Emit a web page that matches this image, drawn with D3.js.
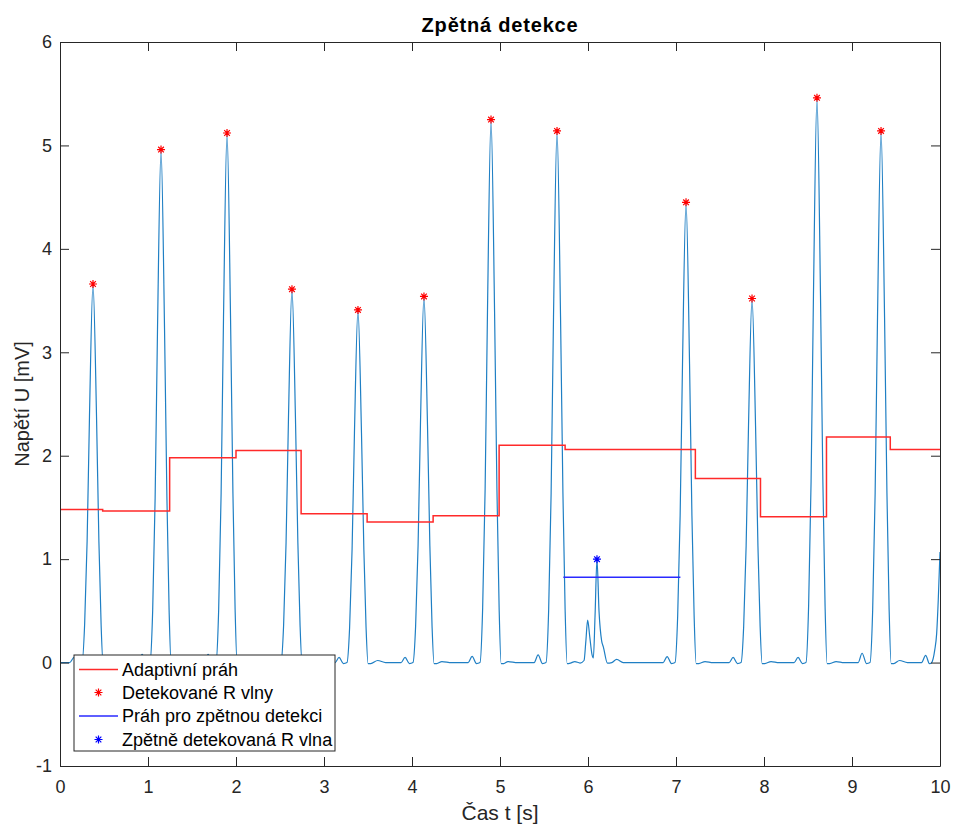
<!DOCTYPE html>
<html>
<head>
<meta charset="utf-8">
<script src="https://cdn.jsdelivr.net/npm/d3@7"></script>
<style>
  html, body { margin: 0; padding: 0; background: #fff; }
  svg { display: block; }
  text { font-family: "Liberation Sans", Arial, Helvetica, sans-serif; }
</style>
</head>
<body>
<svg id="chart" width="953" height="829"></svg>
<script>
// ---------------- data ----------------
const titleText = "Zpětná detekce";
const xLabel = "Čas t [s]";
const yLabel = "Napětí U [mV]";
const xTicks = [0, 1, 2, 3, 4, 5, 6, 7, 8, 9, 10];
const yTicks = [-1, 0, 1, 2, 3, 4, 5, 6];
const legendLabels = ["Adaptivní práh", "Detekované R vlny", "Práh pro zpětnou detekci", "Zpětně detekovaná R vlna"];

// ECG signal [t (s), U (mV)]
const ecg = [
  [0,0],[0.11,0],[0.16,0.05],[0.2,0.03],[0.25,0],
  [0.28,0.37],[0.308,1.17],[0.335,2.38],[0.375,3.66],[0.415,2.38],[0.442,1.17],[0.467,0.37],[0.49,-0.01],
  [0.52,-0.01],[0.585,0.02],[0.68,0],
  [0.888,0],[0.933,0.08],[0.983,-0.01],
  [1.023,0],[1.053,0.50],[1.081,1.59],[1.108,3.22],[1.148,4.96],[1.188,3.22],[1.215,1.59],[1.240,0.50],[1.263,-0.01],
  [1.293,-0.01],[1.358,0.02],[1.45,0],
  [1.638,0],[1.683,0.08],[1.733,-0.01],
  [1.773,0],[1.803,0.51],[1.831,1.64],[1.858,3.33],[1.898,5.12],[1.938,3.33],[1.965,1.64],[1.990,0.51],[2.013,-0.01],
  [2.043,-0.01],[2.108,0.02],[2.2,0],
  [2.376,0],[2.421,0.05],[2.471,-0.01],
  [2.511,0],[2.541,0.36],[2.569,1.16],[2.596,2.35],[2.636,3.61],[2.676,2.35],[2.703,1.16],[2.728,0.36],[2.751,-0.01],
  [2.781,-0.01],[2.846,0.02],[2.94,0],
  [3.126,0],[3.171,0.05],[3.221,-0.01],
  [3.261,0],[3.291,0.34],[3.319,1.09],[3.346,2.22],[3.386,3.41],[3.426,2.22],[3.453,1.09],[3.478,0.34],[3.501,-0.01],
  [3.531,-0.01],[3.61,0.02],[3.7,0],
  [3.876,0],[3.921,0.05],[3.971,-0.01],
  [4.011,0],[4.041,0.35],[4.069,1.13],[4.096,2.30],[4.136,3.54],[4.176,2.30],[4.203,1.13],[4.228,0.35],[4.251,-0.01],
  [4.281,-0.01],[4.34,0.01],[4.45,0],
  [4.638,0],[4.683,0.06],[4.733,-0.01],
  [4.773,0],[4.803,0.53],[4.831,1.68],[4.858,3.41],[4.898,5.25],[4.938,3.41],[4.965,1.68],[4.990,0.53],[5.013,-0.01],
  [5.043,-0.01],[5.09,0.01],[5.2,0],
  [5.388,0],[5.433,0.075],[5.483,-0.01],
  [5.523,0],[5.553,0.51],[5.581,1.64],[5.608,3.34],[5.648,5.14],[5.688,3.34],[5.715,1.64],[5.740,0.51],[5.763,-0.01],
  [5.80,-0.005],[5.85,0.01],[5.91,-0.005],[5.955,0.02],[5.975,0.2],[5.996,0.41],[6.02,0.25],[6.045,0.08],[6.061,0.045],
  [6.08,0.45],[6.102,1.0],[6.125,0.5],[6.155,0.21],[6.175,0.15],[6.22,-0.005],[6.27,0],[6.326,0.03],[6.4,0],
  [6.854,0],[6.899,0.058],[6.949,-0.01],
  [6.989,0],[7.019,0.45],[7.047,1.42],[7.074,2.89],[7.114,4.45],[7.154,2.89],[7.181,1.42],[7.206,0.45],[7.229,-0.01],
  [7.259,-0.01],[7.33,0.01],[7.42,0],
  [7.604,0],[7.649,0.05],[7.699,-0.01],
  [7.739,0],[7.769,0.35],[7.797,1.13],[7.824,2.29],[7.864,3.52],[7.904,2.29],[7.931,1.13],[7.956,0.35],[7.979,-0.01],
  [8.009,-0.01],[8.08,0.01],[8.17,0],
  [8.342,0],[8.387,0.05],[8.437,-0.01],
  [8.477,0],[8.507,0.55],[8.535,1.75],[8.562,3.55],[8.602,5.46],[8.642,3.55],[8.669,1.75],[8.694,0.55],[8.717,-0.01],
  [8.747,-0.01],[8.82,0.01],[8.91,0],
  [9.07,0],[9.115,0.09],[9.165,-0.01],
  [9.205,0],[9.235,0.51],[9.263,1.64],[9.290,3.34],[9.330,5.14],[9.370,3.34],[9.397,1.64],[9.422,0.51],[9.445,-0.01],
  [9.475,-0.01],[9.54,0.02],[9.63,0],
  [9.79,0],[9.837,0.07],[9.88,-0.01],[9.905,0],[9.94,0.12],[9.962,0.28],[9.98,0.6],[10,1.07]
];

// adaptive threshold: [start time, level] (step function), last point closes at t = 10
const threshold = [
  [0,1.48],[0.485,1.465],[1.246,1.98],[2.0,2.05],[2.74,1.44],[3.49,1.36],[4.24,1.42],
  [4.99,2.10],[5.74,2.06],[7.22,1.78],[7.96,1.41],[8.71,2.18],[9.435,2.06],[10,2.06]
];

// detected R waves [t, U]
const detectedR = [
  [0.375,3.66],[1.148,4.96],[1.898,5.12],[2.636,3.61],[3.386,3.41],[4.136,3.54],
  [4.898,5.25],[5.648,5.14],[7.114,4.45],[7.864,3.52],[8.602,5.46],[9.330,5.14]
];

// threshold for back-detection
const backThreshold = [[5.72,0.825],[7.05,0.825]];

// back-detected R wave
const backR = [[6.102,1.0]];

// ---------------- drawing ----------------
const svg = d3.select("#chart");
const W = 953, H = 829;
const m = { left: 60, right: 13, top: 42, bottom: 63 };
const pw = W - m.left - m.right, ph = H - m.top - m.bottom;

const x = d3.scaleLinear().domain([0, 10]).range([m.left, m.left + pw]);
const y = d3.scaleLinear().domain([-1, 6]).range([m.top + ph, m.top]);

const axisColor = "#262626";
const red = "#ff2a2a", blue = "#2a2aff";

svg.append("rect").attr("width", W).attr("height", H).attr("fill", "#fff");

svg.append("defs").append("clipPath").attr("id", "clip")
  .append("rect").attr("x", m.left).attr("y", m.top).attr("width", pw).attr("height", ph);

const plot = svg.append("g").attr("clip-path", "url(#clip)");

plot.append("path").datum(ecg)
  .attr("d", d3.line().x(d => x(d[0])).y(d => y(d[1])).curve(d3.curveMonotoneX))
  .attr("fill", "none").attr("stroke", "#1f7fc4").attr("stroke-width", 1.2);

plot.append("path").datum(threshold)
  .attr("d", d3.line().x(d => x(d[0])).y(d => y(d[1])).curve(d3.curveStepAfter))
  .attr("fill", "none").attr("stroke", red).attr("stroke-width", 1.5);

plot.append("path").datum(backThreshold)
  .attr("d", d3.line().x(d => x(d[0])).y(d => y(d[1])))
  .attr("fill", "none").attr("stroke", blue).attr("stroke-width", 1.5);

// MATLAB-like '*' marker (plus + cross)
const starType = {
  draw(ctx, size) {
    const r = Math.sqrt(size) / 2;
    const d = r * 0.7071;
    ctx.moveTo(-r, 0); ctx.lineTo(r, 0);
    ctx.moveTo(0, -r); ctx.lineTo(0, r);
    ctx.moveTo(-d, -d); ctx.lineTo(d, d);
    ctx.moveTo(-d, d); ctx.lineTo(d, -d);
  }
};
const star = d3.symbol().type(starType).size(64);

plot.selectAll(".rstar").data(detectedR).enter().append("path")
  .attr("transform", d => `translate(${x(d[0])},${y(d[1])})`)
  .attr("d", star).attr("fill", "none").attr("stroke", "#ff0000").attr("stroke-width", 1.2);

plot.selectAll(".bstar").data(backR).enter().append("path")
  .attr("transform", d => `translate(${x(d[0])},${y(d[1])})`)
  .attr("d", star).attr("fill", "none").attr("stroke", "#0000ff").attr("stroke-width", 1.2);

// axes
function styleAxis(g) {
  g.selectAll(".domain").attr("stroke", axisColor).attr("stroke-width", 1);
  g.selectAll(".tick line").attr("stroke", axisColor).attr("stroke-width", 1);
  g.selectAll(".tick text").attr("fill", axisColor).style("font-size", "18px");
}
const fmt = d => (d < 0 ? "-" + Math.abs(d) : String(d));
svg.append("g").attr("transform", `translate(0,${m.top + ph})`)
  .call(d3.axisBottom(x).tickValues(xTicks).tickFormat(fmt).tickSize(-9).tickSizeOuter(0).tickPadding(14))
  .call(styleAxis);
svg.append("g").attr("transform", `translate(0,${m.top})`)
  .call(d3.axisTop(x).tickValues(xTicks).tickFormat(() => "").tickSize(-9).tickSizeOuter(0))
  .call(styleAxis);
svg.append("g").attr("transform", `translate(${m.left},0)`)
  .call(d3.axisLeft(y).tickValues(yTicks).tickFormat(fmt).tickSize(-9).tickSizeOuter(0).tickPadding(8))
  .call(styleAxis);
svg.append("g").attr("transform", `translate(${m.left + pw},0)`)
  .call(d3.axisRight(y).tickValues(yTicks).tickFormat(() => "").tickSize(-9).tickSizeOuter(0))
  .call(styleAxis);

// titles
svg.append("text").attr("x", m.left + pw / 2).attr("y", 32)
  .attr("text-anchor", "middle").style("font-size", "20px").style("font-weight", "bold")
  .style("letter-spacing", "0.8px").attr("fill", "#000").text(titleText);

svg.append("text").attr("x", m.left + pw / 2).attr("y", 820)
  .attr("text-anchor", "middle").style("font-size", "21px").attr("fill", axisColor).text(xLabel);

svg.append("text").attr("transform", `translate(29,${m.top + ph / 2}) rotate(-90)`)
  .attr("text-anchor", "middle").style("font-size", "20px").attr("fill", axisColor).text(yLabel);

// legend
const lg = svg.append("g").attr("transform", "translate(74,655)");
lg.append("rect").attr("width", 261).attr("height", 96)
  .attr("fill", "#fff").attr("stroke", axisColor).attr("stroke-width", 1);
const rowY = [14.5, 37.5, 61, 84.5];
const legendItems = [
  { type: "line", color: red },
  { type: "star", color: "#ff0000" },
  { type: "line", color: blue },
  { type: "star", color: "#0000ff" }
];
legendItems.forEach((it, i) => {
  const g = lg.append("g").attr("transform", `translate(0,${rowY[i]})`);
  if (it.type === "line") {
    g.append("line").attr("x1", 5).attr("x2", 44).attr("y1", 0).attr("y2", 0)
      .attr("stroke", it.color).attr("stroke-width", 1.5);
  } else {
    g.append("path").attr("transform", "translate(24.5,0)").attr("d", star)
      .attr("fill", "none").attr("stroke", it.color).attr("stroke-width", 1.2);
  }
  g.append("text").attr("x", 48).attr("y", 0).attr("dy", "0.35em")
    .style("font-size", "18px").attr("fill", "#000").text(legendLabels[i]);
});
</script>
</body>
</html>
